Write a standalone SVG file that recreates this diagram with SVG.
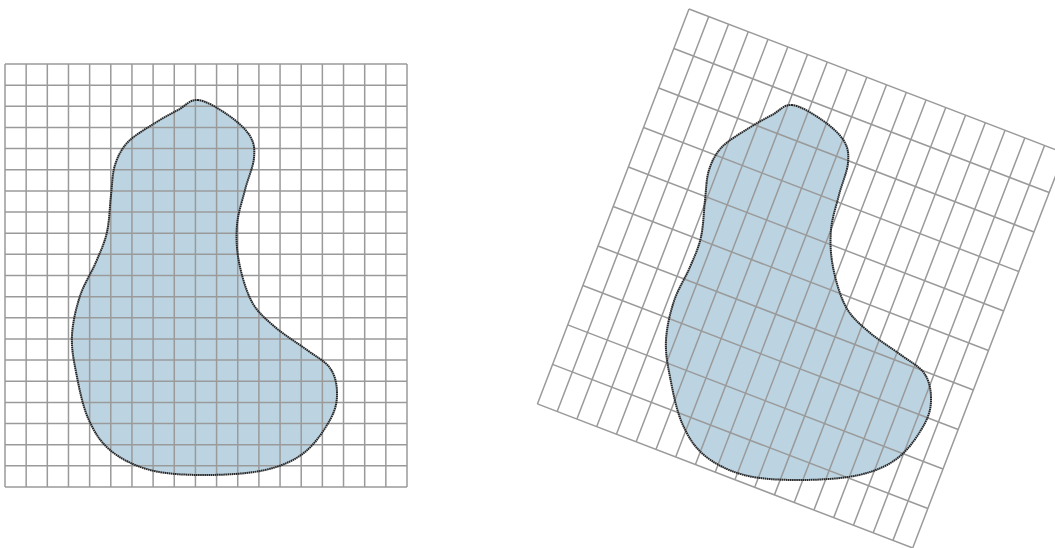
<svg xmlns="http://www.w3.org/2000/svg" width="1055" height="548" viewBox="0 0 1055 548">
<style>
.grid{fill:none;stroke:#9a9a9a;stroke-width:1.5}
.fill{fill:#bcd4e2;stroke:none}
.outline{fill:none;stroke:#262626;stroke-width:2;stroke-dasharray:1.6 0.5}
</style>
<defs>
<path id="shape" d="M198,100 C206.3,100.8 219.3,109 228,115 C236.7,121 245.7,128.8 250,136 C254.3,143.2 254.8,149 254,158 C253.2,167 247.8,178.8 245,190 C242.2,201.2 238,213 237,225 C236,237 236.5,249.2 239,262 C241.5,274.8 246,291.2 252,302 C258,312.8 265.8,319 275,327 C284.2,335 297.8,343.2 307,350 C316.2,356.8 325,361 330,368 C335,375 336.8,383.7 337,392 C337.2,400.3 336.3,408 331,418 C325.7,428 316,443.3 305,452 C294,460.7 281.7,466.2 265,470 C248.3,473.8 224.2,475 205,475 C185.8,475 165.8,474.2 150,470 C134.2,465.8 120.3,458.7 110,450 C99.7,441.3 93.7,431 88,418 C82.3,405 78.7,385.8 76,372 C73.3,358.2 71.3,347.7 72,335 C72.7,322.3 76,308.2 80,296 C84,283.8 91.5,272.7 96,262 C100.5,251.3 104.5,243.2 107,232 C109.5,220.8 109.7,206.2 111,195 C112.3,183.8 112.2,173.8 115,165 C117.8,156.2 121.3,149 128,142 C134.7,135 146.7,128.3 155,123 C163.3,117.7 170.8,113.8 178,110 C185.2,106.2 189.7,99.2 198,100 Z"/>
</defs>
<g id="left-figure">
<use href="#shape" class="fill"/>
<g id="left-grid" transform="translate(5,64)">
<path class="grid" d="M0,0 v423 m21.158,-423 v423 m21.158,-423 v423 m21.158,-423 v423 m21.158,-423 v423 m21.158,-423 v423 m21.158,-423 v423 m21.158,-423 v423 m21.158,-423 v423 m21.158,-423 v423 m21.158,-423 v423 m21.158,-423 v423 m21.158,-423 v423 m21.158,-423 v423 m21.158,-423 v423 m21.158,-423 v423 m21.158,-423 v423 m21.158,-423 v423 m21.158,-423 v423 m21.158,-423 v423"/>
<path class="grid" d="M0,0 h402 m-402,21.15 h402 m-402,21.15 h402 m-402,21.15 h402 m-402,21.15 h402 m-402,21.15 h402 m-402,21.15 h402 m-402,21.15 h402 m-402,21.15 h402 m-402,21.15 h402 m-402,21.15 h402 m-402,21.15 h402 m-402,21.15 h402 m-402,21.15 h402 m-402,21.15 h402 m-402,21.15 h402 m-402,21.15 h402 m-402,21.15 h402 m-402,21.15 h402 m-402,21.15 h402 m-402,21.15 h402"/>
</g>
<use href="#shape" class="outline"/>
</g>
<g id="right-figure">
<use href="#shape" class="fill" transform="translate(594,5)"/>
<g id="right-grid" transform="translate(689,9) rotate(21)">
<path class="grid" d="M0,0 v423 m21.158,-423 v423 m21.158,-423 v423 m21.158,-423 v423 m21.158,-423 v423 m21.158,-423 v423 m21.158,-423 v423 m21.158,-423 v423 m21.158,-423 v423 m21.158,-423 v423 m21.158,-423 v423 m21.158,-423 v423 m21.158,-423 v423 m21.158,-423 v423 m21.158,-423 v423 m21.158,-423 v423 m21.158,-423 v423 m21.158,-423 v423 m21.158,-423 v423 m21.158,-423 v423"/>
<path class="grid" d="M0,0 h402 m-402,42.3 h402 m-402,42.3 h402 m-402,42.3 h402 m-402,42.3 h402 m-402,42.3 h402 m-402,42.3 h402 m-402,42.3 h402 m-402,42.3 h402 m-402,42.3 h402 m-402,42.3 h402"/>
</g>
<use href="#shape" class="outline" transform="translate(594,5)"/>
</g>
</svg>
